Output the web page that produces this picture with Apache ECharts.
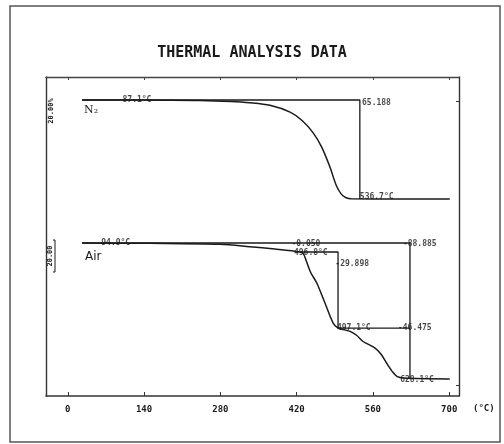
<!DOCTYPE html>
<html>
<head>
<meta charset="UTF-8">
<title>Thermal analysis data</title>
<script src="https://cdn.jsdelivr.net/npm/echarts@6/dist/echarts.min.js"></script>
<style>
  html, body { margin: 0; padding: 0; background: #fff; }
  #chart { width: 504px; height: 444px; }
</style>
</head>
<body>
<div id="chart"></div>
<script>
// temperature ticks (°C)
var tempTicks = [0, 140, 280, 420, 560, 700];

// N2 run: temperature (°C) and residual mass (%)
var n2Temp = [26, 96, 180, 242, 300, 334, 371, 408, 430, 450, 466, 481, 493, 502, 510, 520, 600, 701];
var n2Mass = [100, 100, 99.9, 99.7, 99.0, 98.2, 96.5, 92.0, 86.5, 78.5, 69.0, 56.0, 43.5, 38.0, 35.8, 34.9, 34.8, 34.8];
// N2 reference / step line
var n2RefTemp = [26, 536, 536];
var n2RefMass = [100, 100, 34.8];

// Air run
var airTemp = [26, 150, 280, 334, 380, 426, 432, 438, 446, 457, 472, 487, 496, 506, 518, 530, 542, 564, 575, 585, 596, 604, 616, 701];
var airMass = [100, 99.8, 99.2, 97.6, 96.0, 94.1, 93.2, 88.0, 80.5, 73.8, 60.6, 47.5, 44.2, 43.2, 42.0, 39.5, 35.4, 31.1, 27.0, 21.3, 15.5, 12.5, 11.4, 10.8];
var airRefTemp = [26, 628, 628];
var airRefMass = [100, 100, 10.8];
var airStepTemp = [426, 496, 496, 628];
var airStepMass = [94.1, 94.1, 44.2, 44.2];

// annotation texts
var n2LabelTemp = [127, 540, 536];
var n2LabelMass = [100, 98, 36.1];
var n2LabelText = ['87.1°C', '65.188', '536.7°C'];
var n2LabelAlign = ['center', 'left', 'left'];

var airLabelTemp = [88, 437, 446, 491, 615, 494, 606, 610];
var airLabelMass = [100, 99.4, 93.2, 86.6, 99.1, 44, 44, 10.5];
var airLabelText = ['94.9°C', '-0.050', '496.8°C', '-29.898', '-88.885', '497.1°C', '-46.475', '628.1°C'];
var airLabelAlign = ['center', 'center', 'center', 'left', 'left', 'left', 'left', 'left'];

var ink = '#1a1a1a';
var mono = '"DejaVu Sans Mono", monospace';

function pairs(xs, ys) {
    var out = [];
    for (var i = 0; i < xs.length; i++) out.push([xs[i], ys[i]]);
    return out;
}
function labelData(xs, ys, texts, aligns) {
    var out = [];
    for (var i = 0; i < xs.length; i++) {
        out.push({ value: [xs[i], ys[i], texts[i]], label: { align: aligns[i] } });
    }
    return out;
}

var chart = echarts.init(document.getElementById('chart'));

var hiddenX = { type: 'value', min: -40, max: 718, show: false };

var option = {
    animation: false,
    backgroundColor: '#fff',
    title: {
        text: 'THERMAL ANALYSIS DATA',
        left: 'center',
        top: 41,
        textStyle: { fontFamily: mono, fontWeight: 'bold', fontSize: 15, color: ink }
    },
    grid: [
        { left: 46, top: 77, width: 413, height: 319 },   // frame
        { left: 46, top: 100, width: 413, height: 99 },   // N2
        { left: 46, top: 243, width: 413, height: 136 }   // Air
    ],
    xAxis: [
        {
            type: 'value', gridIndex: 0, min: -40, max: 718, position: 'bottom',
            axisLine: { onZero: false, lineStyle: { color: '#333', width: 1.6 } },
            axisTick: { inside: true, length: 4, customValues: tempTicks, lineStyle: { color: '#333' } },
            axisLabel: { customValues: tempTicks, margin: 9, fontFamily: mono, fontWeight: 'bold', fontSize: 9, color: ink },
            splitLine: { show: false },
            name: '(°C)', nameLocation: 'end', nameGap: 14,
            nameTextStyle: { fontFamily: mono, fontSize: 9, fontWeight: 'bold', color: ink, verticalAlign: 'top', padding: [8, 0, 0, 0] }
        },
        {
            type: 'value', gridIndex: 0, min: -40, max: 718, position: 'top',
            axisLine: { onZero: false, lineStyle: { color: '#444', width: 1.4 } },
            axisTick: { inside: true, length: 3, customValues: tempTicks, lineStyle: { color: '#444' } },
            axisLabel: { show: false },
            splitLine: { show: false }
        },
        Object.assign({ gridIndex: 1 }, hiddenX),
        Object.assign({ gridIndex: 2 }, hiddenX)
    ],
    yAxis: [
        {
            type: 'value', gridIndex: 0, min: 0, max: 1, position: 'left',
            axisLine: { show: true, onZero: false, lineStyle: { color: '#333', width: 1.4 } },
            axisTick: { show: false }, axisLabel: { show: false }, splitLine: { show: false }
        },
        {
            type: 'value', gridIndex: 0, min: 0, max: 1, position: 'right',
            axisLine: { show: true, onZero: false, lineStyle: { color: '#333', width: 1.4 } },
            axisTick: { show: true, inside: true, length: 3, customValues: [0.034, 0.925], lineStyle: { color: '#333' } },
            axisLabel: { show: false }, splitLine: { show: false }
        },
        { type: 'value', gridIndex: 1, min: 34.8, max: 100, show: false },
        { type: 'value', gridIndex: 2, min: 10.8, max: 100, show: false }
    ],
    series: [
        {
            name: 'N2 ref', type: 'line', xAxisIndex: 2, yAxisIndex: 2, clip: false,
            data: pairs(n2RefTemp, n2RefMass), symbol: 'none',
            lineStyle: { color: ink, width: 1.3 }
        },
        {
            name: 'N2', type: 'line', xAxisIndex: 2, yAxisIndex: 2, clip: false,
            data: pairs(n2Temp, n2Mass), symbol: 'none', smooth: 0.3,
            lineStyle: { color: ink, width: 1.5 }
        },
        {
            name: 'Air ref', type: 'line', xAxisIndex: 3, yAxisIndex: 3, clip: false,
            data: pairs(airRefTemp, airRefMass), symbol: 'none',
            lineStyle: { color: ink, width: 1.3 }
        },
        {
            name: 'Air step', type: 'line', xAxisIndex: 3, yAxisIndex: 3, clip: false,
            data: pairs(airStepTemp, airStepMass), symbol: 'none',
            lineStyle: { color: ink, width: 1.3 }
        },
        {
            name: 'Air', type: 'line', xAxisIndex: 3, yAxisIndex: 3, clip: false,
            data: pairs(airTemp, airMass), symbol: 'none', smooth: 0.3,
            lineStyle: { color: ink, width: 1.5 }
        },
        {
            name: 'N2 labels', type: 'scatter', xAxisIndex: 2, yAxisIndex: 2, clip: false,
            symbolSize: 0, data: labelData(n2LabelTemp, n2LabelMass, n2LabelText, n2LabelAlign),
            label: {
                show: true, position: 'inside', verticalAlign: 'middle',
                formatter: function (p) { return p.value[2]; },
                fontFamily: mono, fontWeight: 'bold', fontSize: 8, color: ink
            }
        },
        {
            name: 'Air labels', type: 'scatter', xAxisIndex: 3, yAxisIndex: 3, clip: false,
            symbolSize: 0, data: labelData(airLabelTemp, airLabelMass, airLabelText, airLabelAlign),
            label: {
                show: true, position: 'inside', verticalAlign: 'middle',
                formatter: function (p) { return p.value[2]; },
                fontFamily: mono, fontWeight: 'bold', fontSize: 8, color: ink
            }
        }
    ],
    graphic: [
        // outer border of the sheet
        { type: 'rect', shape: { x: 10, y: 6, width: 490, height: 436 }, style: { fill: null, stroke: '#555', lineWidth: 1.5 } },
        // gas labels
        { type: 'text', left: 84, top: 105, style: { text: 'N₂', font: '11px "DejaVu Serif", serif', fill: ink } },
        { type: 'text', left: 85, top: 251, style: { text: 'Air', font: '12px "DejaVu Sans", sans-serif', fill: ink } },
        // scale bars on the left
        { type: 'text', x: 51, y: 111, rotation: Math.PI / 2, style: { text: '20.00%', font: 'bold 7px "DejaVu Sans Mono"', fill: ink, align: 'center', verticalAlign: 'middle' } },
        { type: 'text', x: 50, y: 256, rotation: Math.PI / 2, style: { text: '20.00', font: 'bold 7px "DejaVu Sans Mono"', fill: ink, align: 'center', verticalAlign: 'middle' } },
        { type: 'polyline', shape: { points: [[53, 240], [55, 240], [55, 272], [53, 272]] }, style: { stroke: ink, lineWidth: 1, fill: null } }
    ]
};

chart.setOption(option);
</script>
</body>
</html>
